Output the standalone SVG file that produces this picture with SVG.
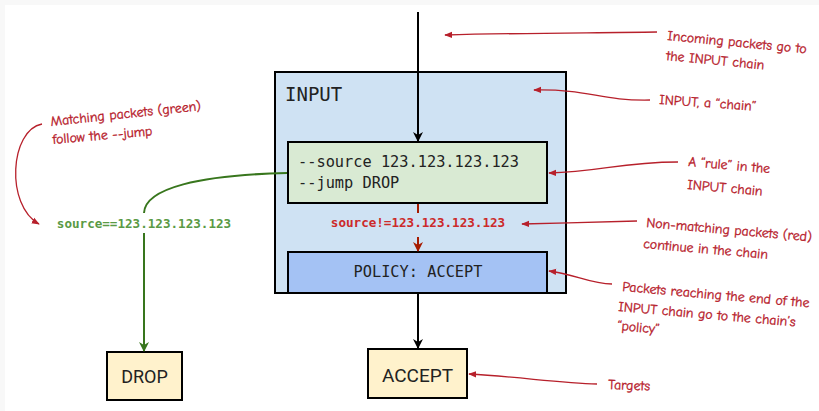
<svg xmlns="http://www.w3.org/2000/svg" width="819" height="411" viewBox="0 0 819 411">
  <defs>
    <marker id="ah-black" viewBox="0 0 10 10" refX="9" refY="5" markerWidth="10" markerHeight="10" markerUnits="userSpaceOnUse" orient="auto">
      <path d="M0,0 L10,5 L0,10 L3,5 z" fill="#000"/>
    </marker>
    <marker id="ah-green" viewBox="0 0 10 10" refX="9" refY="5" markerWidth="10" markerHeight="10" markerUnits="userSpaceOnUse" orient="auto">
      <path d="M0,0 L10,5 L0,10 L3,5 z" fill="#38761d"/>
    </marker>
    <marker id="ah-red" viewBox="0 0 10 10" refX="9" refY="5" markerWidth="10" markerHeight="10" markerUnits="userSpaceOnUse" orient="auto">
      <path d="M0,0 L10,5 L0,10 L3,5 z" fill="#a61c00"/>
    </marker>
    <marker id="ah-note" viewBox="0 0 10 10" refX="9" refY="5" markerWidth="8" markerHeight="8" markerUnits="userSpaceOnUse" orient="auto">
      <path d="M0,1 L10,5 L0,9 z" fill="#b7202b"/>
    </marker>
  </defs>
  <style>
    .box { stroke: #000; stroke-width: 2; }
    .mono { font-family: "DejaVu Sans Mono", "Liberation Mono", monospace; }
    .sans { font-family: Roboto, "Liberation Sans", sans-serif; }
    .note { font-family: "Comic Sans MS", "Comic Neue", cursive; font-size: 13.8px; fill: #b7202b; stroke: #b7202b; stroke-width: 0.35; }
    .note-line { fill: none; stroke: #b7202b; stroke-width: 1.3; marker-end: url(#ah-note); }
  </style>

  <!-- page background with a thin grey margin -->
  <rect x="0" y="0" width="819" height="411" fill="#f8f8f8"/>
  <rect x="5" y="5" width="814" height="406" fill="#ffffff"/>

  <!-- chain -->
  <g id="input-chain">
    <rect class="box" x="275" y="72" width="291" height="221" fill="#cfe2f3"/>
    <text class="mono" x="285" y="101" font-size="19" fill="#222">INPUT</text>
  </g>

  <g id="rule">
    <rect class="box" x="288" y="142" width="259" height="61" fill="#d9ead3"/>
    <text class="mono" x="298" y="167" font-size="15.3" fill="#222">--source 123.123.123.123</text>
    <text class="mono" x="298" y="188" font-size="15.3" fill="#222">--jump DROP</text>
  </g>

  <g id="policy">
    <rect class="box" x="288" y="252" width="259" height="41" fill="#a4c2f4"/>
    <text class="mono" x="418" y="277" font-size="15.3" fill="#222" text-anchor="middle">POLICY: ACCEPT</text>
  </g>

  <!-- targets -->
  <g id="drop">
    <rect class="box" x="107" y="352" width="75" height="48" fill="#fff2cc"/>
    <text class="sans" x="144.5" y="383" font-size="18" fill="#222" text-anchor="middle">DROP</text>
  </g>

  <g id="accept">
    <rect class="box" x="368" y="349" width="99" height="49" fill="#fff2cc"/>
    <text class="sans" x="417.5" y="382" font-size="19" fill="#222" text-anchor="middle">ACCEPT</text>
  </g>

  <!-- connectors -->
  <g id="connectors">
    <line x1="418" y1="12" x2="418" y2="141" stroke="#000" stroke-width="2" marker-end="url(#ah-black)"/>
    <line x1="418" y1="294" x2="418" y2="348" stroke="#000" stroke-width="2" marker-end="url(#ah-black)"/>
    <line x1="418" y1="204" x2="418" y2="213" stroke="#a61c00" stroke-width="2"/>
    <line x1="418" y1="237" x2="418" y2="251" stroke="#a61c00" stroke-width="2" marker-end="url(#ah-red)"/>
    <text class="mono" x="418" y="227" font-size="12.6" font-weight="bold" fill="#cc2a2a" text-anchor="middle">source!=123.123.123.123</text>
    <path d="M287,173 C200,175 145,188 144,213" fill="none" stroke="#38761d" stroke-width="2"/>
    <line x1="144" y1="233" x2="144" y2="351" stroke="#38761d" stroke-width="2" marker-end="url(#ah-green)"/>
    <text class="mono" x="144" y="228" font-size="12.6" font-weight="bold" fill="#5a9a45" text-anchor="middle">source==123.123.123.123</text>
  </g>

  <!-- annotations -->
  <g id="annotations">
    <path class="note-line" d="M657,32 C590,33 520,33 445,35"/>
    <text class="note" transform="translate(667,40) rotate(5.5)">Incoming packets go to</text>
    <text class="note" transform="translate(666,60) rotate(5.5)">the INPUT chain</text>

    <path class="note-line" d="M650,100 C600,101 590,89 534,90"/>
    <text class="note" transform="translate(659,104) rotate(4)">INPUT, a “chain”</text>

    <path class="note-line" d="M678,162 C620,162 600,172 549,173"/>
    <text class="note" transform="translate(688,166) rotate(5)">A “rule” in the</text>
    <text class="note" transform="translate(687,189) rotate(5)">INPUT chain</text>

    <path class="note-line" d="M637,221 C600,222 560,223 522,224"/>
    <text class="note" transform="translate(646,227) rotate(5)">Non-matching packets (red)</text>
    <text class="note" transform="translate(643,248) rotate(5)">continue in the chain</text>

    <path class="note-line" d="M612,284 C590,284 575,274 549,271"/>
    <text class="note" transform="translate(622,291) rotate(5)">Packets reaching the end of the</text>
    <text class="note" transform="translate(618,311) rotate(5)">INPUT chain go to the chain’s</text>
    <text class="note" transform="translate(617,330) rotate(5)">“policy”</text>

    <path class="note-line" d="M597,384 C560,383 520,377 469,374"/>
    <text class="note" transform="translate(608,389) rotate(2)">Targets</text>

    <path class="note-line" d="M42,124 C10,130 5,205 39,224"/>
    <text class="note" transform="translate(51,126) rotate(-6)">Matching packets (green)</text>
    <text class="note" transform="translate(53,144) rotate(-5)">follow the --jump</text>
  </g>
</svg>
